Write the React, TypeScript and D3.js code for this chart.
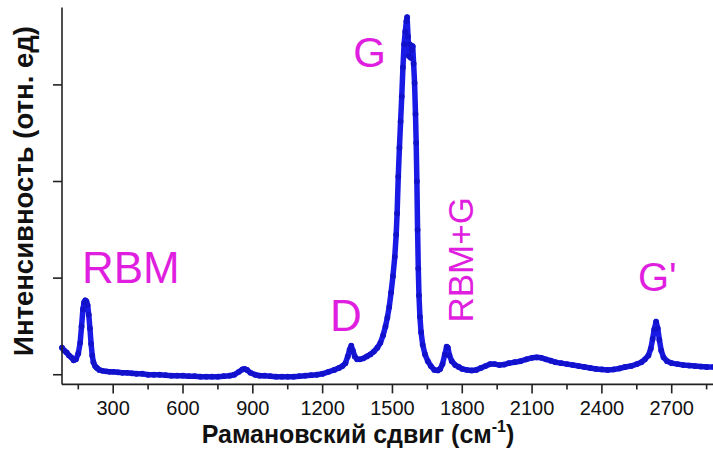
import React from "react";
import * as d3 from "d3";

// Raman shift (cm^-1) and intensity (arb. units)
const wavenumbers = [
  80, 90, 100, 110, 120, 130, 140, 150, 158, 164, 170, 175, 180, 185, 190, 195, 200, 205, 210, 215, 222, 230, 240, 255,
  270, 285, 300, 320, 340, 360, 380, 400, 425, 450, 475, 500, 525, 550, 575, 600, 625, 650, 675, 700, 725, 750, 775,
  800, 820, 840, 855, 865, 875, 890, 910, 930, 950, 975, 1000, 1025, 1050, 1075, 1100, 1125, 1150, 1175, 1200, 1225,
  1250, 1270, 1285, 1298, 1308, 1316, 1323, 1330, 1338, 1348, 1360, 1375, 1390, 1405, 1420, 1435, 1448, 1460, 1470,
  1478, 1486, 1494, 1502, 1510, 1516, 1520, 1525, 1530, 1535, 1540, 1545, 1550, 1555, 1560, 1563, 1567, 1571, 1575,
  1579, 1583, 1587, 1591, 1595, 1599, 1602, 1605, 1608, 1611, 1614, 1618, 1623, 1630, 1640, 1652, 1665, 1680, 1695,
  1705, 1715, 1725, 1733, 1738, 1745, 1755, 1770, 1785, 1800, 1820, 1840, 1860, 1880, 1900, 1920, 1940, 1960, 1980,
  2000, 2025, 2050, 2075, 2100, 2120, 2140, 2160, 2180, 2200, 2225, 2250, 2275, 2300, 2325, 2350, 2375, 2400, 2425,
  2450, 2475, 2500, 2525, 2550, 2570, 2585, 2600, 2610, 2618, 2625, 2633, 2640, 2647, 2655, 2665, 2680, 2700, 2725,
  2750, 2775, 2800, 2825, 2850, 2880,
];
const intensities = [
  0.28, 0.25, 0.23, 0.2, 0.18, 0.15, 0.16, 0.22, 0.33, 0.5, 0.68, 0.75, 0.77, 0.76, 0.72, 0.62, 0.48, 0.32, 0.2, 0.13,
  0.09, 0.07, 0.05, 0.04, 0.035, 0.03, 0.03, 0.025, 0.02, 0.02, 0.015, 0.01, 0.01, 0.0, 0.0, 0.0, -0.005, -0.01, -0.01,
  -0.01, -0.015, -0.015, -0.02, -0.02, -0.02, -0.02, -0.015, -0.01, 0.0, 0.03, 0.055, 0.06, 0.05, 0.02, 0.0, -0.01,
  -0.01, -0.015, -0.02, -0.02, -0.02, -0.02, -0.015, -0.01, -0.005, 0.0, 0.01, 0.03, 0.05, 0.07, 0.09, 0.12, 0.19, 0.26,
  0.3, 0.25, 0.19, 0.16, 0.16, 0.17, 0.19, 0.21, 0.24, 0.28, 0.33, 0.41, 0.5, 0.59, 0.7, 0.85, 1.02, 1.22, 1.45, 1.67,
  2.05, 2.35, 2.62, 2.88, 3.18, 3.42, 3.55, 3.66, 3.7, 3.5, 3.3, 3.42, 3.28, 3.36, 3.4, 3.22, 3.02, 2.7, 2.4, 2.0, 1.5,
  1.1, 0.82, 0.6, 0.44, 0.31, 0.21, 0.14, 0.09, 0.05, 0.045, 0.06, 0.11, 0.21, 0.29, 0.28, 0.2, 0.14, 0.1, 0.08, 0.06,
  0.05, 0.045, 0.05, 0.07, 0.09, 0.11, 0.11, 0.1, 0.105, 0.12, 0.13, 0.14, 0.16, 0.175, 0.18, 0.175, 0.16, 0.145, 0.13,
  0.12, 0.11, 0.1, 0.09, 0.08, 0.07, 0.06, 0.055, 0.05, 0.055, 0.065, 0.08, 0.09, 0.11, 0.13, 0.16, 0.2, 0.27, 0.37,
  0.47, 0.55, 0.48, 0.36, 0.25, 0.18, 0.14, 0.12, 0.11, 0.1, 0.095, 0.09, 0.085, 0.08, 0.08,
];

const xTicks = [300, 600, 900, 1200, 1500, 1800, 2100, 2400, 2700];
const xMinorTicks = [150, 450, 750, 1050, 1350, 1650, 1950, 2250, 2550, 2850];
const yTicks = [0, 1, 2, 3];

const peakNames = ["RBM", "D", "G", "G'"];
const peakLabelX = [166, 1232, 1331, 2555];
const peakLabelY = [0.95, 0.45, 3.19, 0.87];
const peakLabelSize = [44, 44, 42, 40];
const combLabel = "RBM+G";
const combLabelX = 1846;
const combLabelY = 0.54;

const xTitle = "Рамановский сдвиг (см";
const xTitleSup = "-1";
const yTitle = "Интенсивность (отн. ед)";

const W = 713;
const H = 452;
const FONT = "'Liberation Sans', Arial, Helvetica, sans-serif";
const MAGENTA = "#e01ee0";

export default function App() {
  const x = d3.scaleLinear().domain([80, 2880]).range([62, 713.6]);
  const y = d3.scaleLinear().domain([-0.1, 3.8]).range([384.4, 7.6]);
  const pts = wavenumbers.map((w, i) => [w, intensities[i]] as [number, number]);
  const line = d3
    .line<[number, number]>()
    .x((d) => x(d[0]))
    .y((d) => y(d[1]));
  const x0 = x.range()[0];
  const yBase = y(-0.1);

  return (
    <svg width={W} height={H} style={{ position: "absolute", left: 0, top: 0, background: "#fff" }}>
      <rect x={0} y={0} width={W} height={H} fill="#fff" />
      {/* spectrum */}
      <path d={line(pts) || ""} fill="none" stroke="#1a1ae6" strokeWidth={5.5} strokeLinejoin="round" strokeLinecap="round" />
      {pts.map((d, i) => (
        <circle key={i} cx={x(d[0])} cy={y(d[1])} r={2.9} fill="#1212cc" />
      ))}
      {/* axes */}
      <line x1={x0} x2={x0} y1={y(3.8)} y2={yBase} stroke="#222" strokeWidth={1.6} />
      <line x1={x0} x2={W} y1={yBase} y2={yBase} stroke="#222" strokeWidth={1.6} />
      {yTicks.map((t) => (
        <line key={t} x1={x0 - 9} x2={x0} y1={y(t)} y2={y(t)} stroke="#222" strokeWidth={1.6} />
      ))}
      {xTicks.map((t) => (
        <g key={t}>
          <line x1={x(t)} x2={x(t)} y1={yBase} y2={yBase + 9} stroke="#222" strokeWidth={1.6} />
          <text x={x(t)} y={415} textAnchor="middle" fontFamily={FONT} fontSize={20} fill="#111">
            {t}
          </text>
        </g>
      ))}
      {xMinorTicks.map((t) => (
        <line key={t} x1={x(t)} x2={x(t)} y1={yBase} y2={yBase + 5} stroke="#222" strokeWidth={1.6} />
      ))}
      {/* axis titles */}
      <text x={358} y={443} textAnchor="middle" fontFamily={FONT} fontSize={25} fontWeight="bold" fill="#111">
        {xTitle}
        <tspan fontSize={16} dy={-11}>
          {xTitleSup}
        </tspan>
        <tspan dy={11}>)</tspan>
      </text>
      <text
        transform={`translate(33,191) rotate(-90)`}
        textAnchor="middle"
        fontFamily={FONT}
        fontSize={27.5}
        fontWeight="bold"
        fill="#111"
      >
        {yTitle}
      </text>
      {/* peak labels */}
      {peakNames.map((n, i) => (
        <text key={n} x={x(peakLabelX[i])} y={y(peakLabelY[i])} fontFamily={FONT} fontSize={peakLabelSize[i]} fill={MAGENTA}>
          {n}
        </text>
      ))}
      <text
        transform={`translate(${x(combLabelX)},${y(combLabelY)}) rotate(-90)`}
        fontFamily={FONT}
        fontSize={35}
        fill={MAGENTA}
      >
        {combLabel}
      </text>
    </svg>
  );
}
